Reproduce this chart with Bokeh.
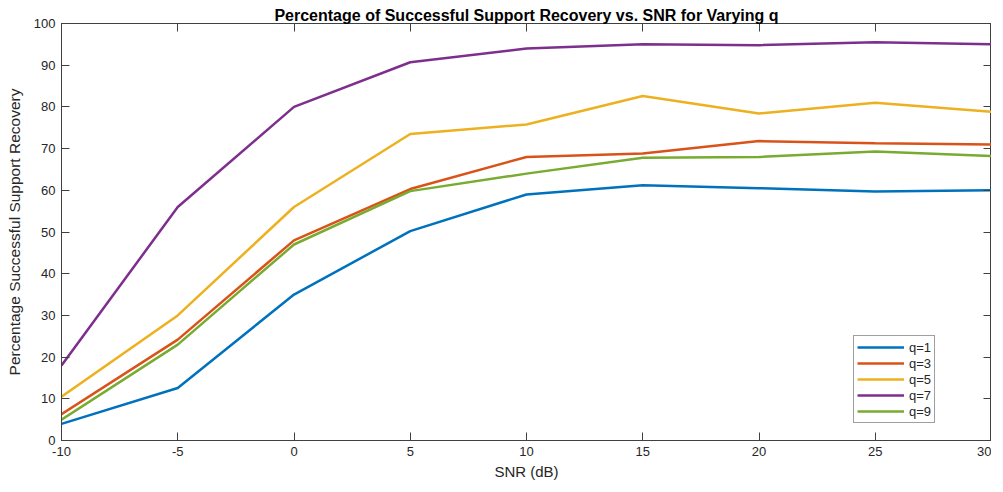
from bokeh.plotting import figure
from bokeh.models import LinearAxis, FixedTicker, Range1d, Legend, LegendItem
from bokeh.embed import file_html
from bokeh.resources import INLINE

snr = [-10, -5, 0, 5, 10, 15, 20, 25, 30]
q1 = [4.0, 12.6, 35.0, 50.2, 59.0, 61.2, 60.5, 59.7, 60.0]
q3 = [6.3, 24.2, 48.0, 60.3, 68.0, 68.8, 71.8, 71.3, 71.0]
q5 = [10.5, 30.0, 56.0, 73.5, 75.8, 82.6, 78.4, 81.0, 78.8]
q7 = [18.0, 56.0, 80.0, 90.7, 94.0, 95.0, 94.8, 95.5, 95.0]
q9 = [5.0, 23.0, 47.0, 59.8, 64.0, 67.8, 68.0, 69.3, 68.2]
labels = ["q=1", "q=3", "q=5", "q=7", "q=9"]
colors = ["#0072BD", "#D95319", "#EDB120", "#7E2F8E", "#77AC30"]
series = [q1, q3, q5, q7, q9]
xticks = [-10, -5, 0, 5, 10, 15, 20, 25, 30]
yticks = [0, 10, 20, 30, 40, 50, 60, 70, 80, 90, 100]

FONT = "Liberation Sans"
AX = "#404040"
TXT = "#262626"

p = figure(frame_width=930, frame_height=417, output_backend="svg", toolbar_location=None,
           x_range=Range1d(-10, 30), y_range=Range1d(0, 100),
           min_border_left=61, min_border_right=0, min_border_top=23, min_border_bottom=40,
           background_fill_color="white", border_fill_color="white")
p.title.text = "Percentage of Successful Support Recovery vs. SNR for Varying q"
p.title.align = "center"
p.title.text_font = FONT
p.title.text_font_size = "16px"
p.title.text_font_style = "bold"
p.title.text_color = "black"
p.title.standoff = 0
p.title.offset = 0
p.outline_line_color = AX
p.xgrid.visible = False
p.ygrid.visible = False

for ax, tk in ((p.xaxis[0], xticks), (p.yaxis[0], yticks)):
    ax.ticker = FixedTicker(ticks=tk)
    ax.major_tick_in = 8
    ax.major_tick_out = 0
    ax.minor_tick_line_color = None
    ax.axis_line_color = AX
    ax.major_tick_line_color = AX
    ax.major_label_text_font = FONT
    ax.major_label_text_font_size = "13px"
    ax.major_label_text_color = TXT
    ax.axis_label_text_font = FONT
    ax.axis_label_text_font_size = "15px"
    ax.axis_label_text_font_style = "normal"
    ax.axis_label_text_color = TXT
    ax.major_label_standoff = 6

p.xaxis[0].major_label_overrides = {t: str(t) for t in xticks}
p.xaxis.axis_label = "SNR (dB)"
p.yaxis.axis_label = "Percentage Successful Support Recovery"
p.yaxis.axis_label_text_font_size = "15.5px"
p.xaxis.axis_label_standoff = 4
p.yaxis.axis_label_standoff = 8

top = LinearAxis(ticker=FixedTicker(ticks=xticks))
right = LinearAxis(ticker=FixedTicker(ticks=yticks))
for ax in (top, right):
    ax.major_tick_in = 8
    ax.major_tick_out = 0
    ax.minor_tick_line_color = None
    ax.axis_line_color = AX
    ax.major_tick_line_color = AX
    ax.major_label_text_font_size = "0px"
    ax.major_label_text_color = None
    ax.major_label_standoff = 0
p.add_layout(top, "above")
p.add_layout(right, "right")

items = []
for lab, col, ys in zip(labels, colors, series):
    r = p.line(snr, ys, line_color=col, line_width=2.5)
    items.append(LegendItem(label=lab, renderers=[r]))

leg = Legend(items=items, location=(792, 17))
leg.border_line_color = AX
leg.border_line_width = 1
leg.background_fill_color = "white"
leg.background_fill_alpha = 1
leg.label_text_font = FONT
leg.label_text_font_size = "13px"
leg.label_text_color = TXT
leg.glyph_width = 47
leg.glyph_height = 16
leg.label_height = 16
leg.label_standoff = 5
leg.spacing = 0
leg.padding = 3
leg.margin = 0
p.add_layout(leg, "center")

open("out.html", "w").write(file_html(p, INLINE))
